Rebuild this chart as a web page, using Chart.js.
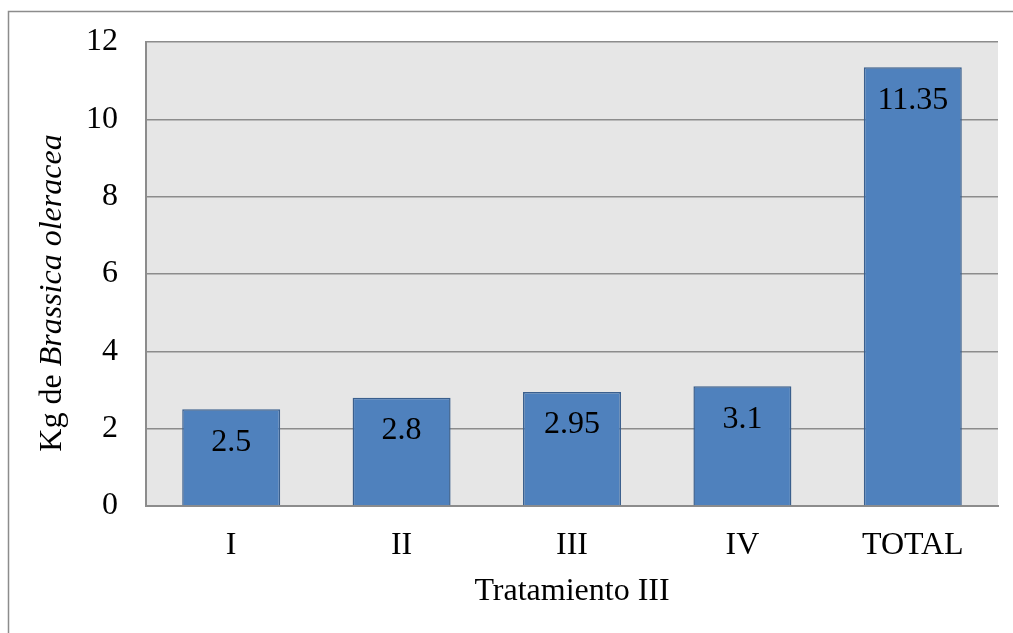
<!DOCTYPE html>
<html>
<head>
<meta charset="utf-8">
<script src="https://cdn.jsdelivr.net/npm/chart.js@4/dist/chart.umd.min.js"></script>
<style>
  html, body { margin: 0; padding: 0; background: #ffffff; }
  #wrap { width: 1013px; height: 633px; position: relative; }
</style>
</head>
<body>
<div id="wrap"><canvas id="c" width="1013" height="633"></canvas></div>
<script>
// Harvest per plot (kg) and the total for the treatment
const categories = ['I', 'II', 'III', 'IV', 'TOTAL'];
const yields = [2.5, 2.8, 2.95, 3.1, 11.35];
const yTicks = [0, 2, 4, 6, 8, 10, 12];
const xTitle = 'Tratamiento III';
const yTitleParts = [
  { text: 'Kg de ', italic: false },
  { text: 'Brassica oleracea', italic: true }
];

const SERIF = '"Liberation Serif", "Times New Roman", serif';
const FS = 32;
const GRID = '#8c8c8c';

// white page, thin outer frame and grey plot background
const backdrop = {
  id: 'backdrop',
  beforeDraw(chart) {
    const { ctx, chartArea: a } = chart;
    ctx.save();
    ctx.fillStyle = '#ffffff';
    ctx.fillRect(0, 0, chart.width, chart.height);
    ctx.strokeStyle = GRID;
    ctx.lineWidth = 1.5;
    ctx.beginPath();
    ctx.moveTo(8.5, chart.height);
    ctx.lineTo(8.5, 11.5);
    ctx.lineTo(chart.width, 11.5);
    ctx.stroke();
    ctx.fillStyle = '#e6e6e6';
    ctx.fillRect(a.left, a.top, a.right - a.left, a.bottom - a.top);
    ctx.restore();
  }
};

// value written inside each bar, just below its top
const valueLabels = {
  id: 'valueLabels',
  afterDatasetsDraw(chart) {
    const { ctx } = chart;
    const meta = chart.getDatasetMeta(0);
    ctx.save();
    ctx.font = FS + 'px ' + SERIF;
    ctx.fillStyle = '#000000';
    ctx.textAlign = 'center';
    ctx.textBaseline = 'middle';
    meta.data.forEach((bar, i) => {
      ctx.fillText(String(yields[i]), bar.x, bar.y + 33);
    });
    ctx.restore();
  }
};

// axis titles (the y title mixes upright and italic text)
const axisTitles = {
  id: 'axisTitles',
  afterDraw(chart) {
    const { ctx, chartArea: a } = chart;
    ctx.save();
    ctx.fillStyle = '#000000';
    ctx.textBaseline = 'alphabetic';
    ctx.textAlign = 'center';
    ctx.font = FS + 'px ' + SERIF;
    ctx.fillText(xTitle, (a.left + a.right) / 2, 600);

    ctx.translate(61, 293);
    ctx.rotate(-Math.PI / 2);
    ctx.textAlign = 'left';
    const fonts = yTitleParts.map(p => (p.italic ? 'italic ' : '') + FS + 'px ' + SERIF);
    let total = 0;
    const widths = yTitleParts.map((p, i) => {
      ctx.font = fonts[i];
      const w = ctx.measureText(p.text).width;
      total += w;
      return w;
    });
    let x = -total / 2;
    yTitleParts.forEach((p, i) => {
      ctx.font = fonts[i];
      ctx.fillText(p.text, x, 0);
      x += widths[i];
    });
    ctx.restore();
  }
};

new Chart(document.getElementById('c'), {
  type: 'bar',
  data: {
    labels: categories,
    datasets: [{
      data: yields,
      backgroundColor: '#4f81bd',
      borderColor: '#3a5f8d',
      borderWidth: 1.5,
      barPercentage: 0.575,
      categoryPercentage: 1.0
    }]
  },
  options: {
    responsive: false,
    animation: false,
    devicePixelRatio: 1,
    layout: { padding: { top: 42, right: 15, left: 0, bottom: 0 } },
    plugins: {
      legend: { display: false },
      tooltip: { enabled: false },
      title: { display: false }
    },
    scales: {
      x: {
        grid: { display: false, drawTicks: false },
        border: { display: true, color: GRID, width: 2 },
        ticks: { color: '#000000', font: { family: SERIF, size: FS }, padding: 20 },
        afterFit(scale) { scale.height = 127; }
      },
      y: {
        min: 0,
        max: 12,
        afterBuildTicks(scale) { scale.ticks = yTicks.map(v => ({ value: v })); },
        grid: { color: GRID, lineWidth: 1.5, drawTicks: false },
        border: { display: true, color: GRID, width: 2 },
        ticks: { color: '#000000', font: { family: SERIF, size: FS }, padding: 28 },
        afterFit(scale) {
          scale.width = 146;
          // label overflow only needs half a line, not the horizontal tick gap
          scale.paddingTop = 20;
          scale.paddingBottom = 20;
        }
      }
    }
  },
  plugins: [backdrop, valueLabels, axisTitles]
});
</script>
</body>
</html>
